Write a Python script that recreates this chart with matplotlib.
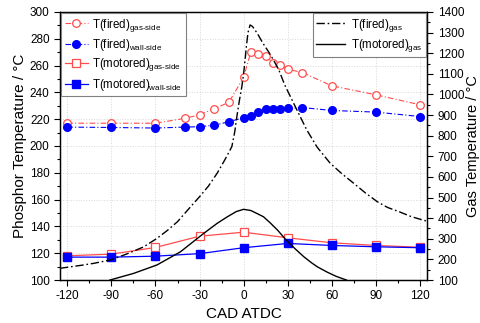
import matplotlib
matplotlib.use('Agg')
import matplotlib.pyplot as plt
import numpy as np

plt.rcParams['font.family'] = ['Liberation Sans', 'DejaVu Sans']
plt.rcParams['mathtext.fontset'] = 'custom'
plt.rcParams['mathtext.rm'] = 'Liberation Sans'
plt.rcParams['axes.unicode_minus'] = False

# phosphor temperatures (left axis)
cad_fired = [-120, -90, -60, -40, -30, -20, -10, 0, 5, 10, 15, 20, 25, 30, 40, 60, 90, 120]
fired_gas_side = [217, 217, 217, 220.6, 223.3, 227.8, 232.6, 251.2, 270.4, 268.7, 267, 262.2,
                  260.4, 257.3, 254.8, 244.9, 238.2, 230.8]
fired_wall_side = [214.1, 213.8, 213.4, 214.1, 214.4, 215.5, 218.1, 221.1, 222.6, 225, 227.6,
                   227.6, 227.8, 228, 228.7, 226.5, 225.3, 222]

cad_motored = [-120, -90, -60, -30, 0, 30, 60, 90, 120]
motored_gas_side = [118.1, 119.3, 124.3, 132.7, 135.7, 131.5, 127.8, 125.8, 124.5]
motored_wall_side = [117.1, 117.1, 117.8, 119.7, 124.1, 127.3, 125.8, 124.8, 124.1]

# gas temperatures (right axis)
cad_gas_fired = [-125, -110, -102, -91, -80, -68, -59, -52, -45, -38, -30, -24, -18, -13,
                 -8, -6, -4.6, -3, -1.2, 0, 1, 2, 3, 4.4, 6, 8, 10, 13, 17, 20.5, 24, 28,
                 33, 38, 43, 50, 59, 67, 75, 83, 91, 98, 106, 114, 122, 125]
gas_fired = [157, 172, 181, 197, 225, 261, 302, 340, 383, 440, 504, 555, 618, 680,
             747, 820, 892, 965, 1038, 1100, 1167, 1240, 1300, 1337, 1330, 1310, 1288, 1250,
             1207, 1165, 1119, 1046, 973, 900, 828, 745, 666, 615, 569, 522, 480, 452, 431,
             408, 391, 385]
cad_gas_motored = [-91, -75, -59, -43, -27, -18, -11, -5, 0, 5, 9, 13.5, 18, 23, 29, 35,
                   41, 46, 50, 57, 63, 70]
gas_motored = [100, 132, 173, 237, 327, 375, 407, 432, 443, 437, 423, 407, 378, 343, 294,
               252, 213, 185, 165, 138, 118, 100]

red = '#ff4d4d'
blue = '#0000ff'

fig = plt.figure(figsize=(4.8, 3.23), dpi=100, facecolor='w')
ax = fig.add_axes([0.125, 0.133, 0.765, 0.830])
ax2 = ax.twinx()

l1, = ax.plot(cad_fired, fired_gas_side, color=red, lw=0.8, ls=(0, (5, 2, 1, 2)),
              marker='o', ms=5.5, mfc='white', mec=red, mew=0.9)
l2, = ax.plot(cad_fired, fired_wall_side, color=blue, lw=0.8, ls=(0, (5, 2, 1, 2)),
              marker='o', ms=5.5, mfc=blue, mec=blue)
l3, = ax.plot(cad_motored, motored_gas_side, color=red, lw=0.9,
              marker='s', ms=5.5, mfc='white', mec=red, mew=0.9)
l4, = ax.plot(cad_motored, motored_wall_side, color=blue, lw=0.9,
              marker='s', ms=5.5, mfc=blue, mec=blue)

g1, = ax2.plot(cad_gas_fired, gas_fired, color='black', lw=1.0, ls=(0, (6, 2, 1.2, 2)))
g2, = ax2.plot(cad_gas_motored, gas_motored, color='black', lw=1.0)

ax.set_xlim(-125, 125)
ax.set_ylim(100, 300)
ax2.set_ylim(100, 1400)
ax.set_xticks(np.arange(-120, 121, 30))
ax.set_xticks(np.arange(-120, 121, 15), minor=True)
ax.set_yticks(np.arange(100, 301, 20))
ax.set_yticks(np.arange(100, 301, 10), minor=True)
ax2.set_yticks(np.arange(100, 1401, 100))
ax2.set_yticks(np.arange(100, 1401, 50), minor=True)

ax.grid(True, which='major', color='#d8d8d8', ls=':', lw=0.7)
for a in (ax, ax2):
    a.tick_params(which='major', direction='out', length=4, width=0.8, labelsize=8.5)
    a.tick_params(which='minor', direction='out', length=2.5, width=0.8)
    for s in a.spines.values():
        s.set_linewidth(0.9)
ax.tick_params(top=False, right=False)

ax.set_xlabel('CAD ATDC', fontsize=11, labelpad=3)
ax.set_ylabel('Phosphor Temperature / °C', fontsize=11, labelpad=2)
ax2.set_ylabel('Gas Temperature / °C', fontsize=10.5, labelpad=1)

leg1 = ax2.legend([l1, l2, l3, l4],
                  [r'T(fired)$_{\text{gas-side}}$', r'T(fired)$_{\text{wall-side}}$',
                   r'T(motored)$_{\text{gas-side}}$', r'T(motored)$_{\text{wall-side}}$'],
                  loc='upper left', bbox_to_anchor=(0.0, 1.0), fontsize=8.3, fancybox=False,
                  edgecolor='#808080', framealpha=1, handlelength=2.0, borderaxespad=0.1,
                  labelspacing=0.3, handletextpad=0.4, borderpad=0.3)
leg1.get_frame().set_linewidth(0.8)
ax2.add_artist(leg1)
leg2 = ax2.legend([g1, g2], [r'T(fired)$_{\text{gas}}$', r'T(motored)$_{\text{gas}}$'],
                  loc='upper right', bbox_to_anchor=(1.0, 1.0), fontsize=8.3, fancybox=False,
                  edgecolor='#808080', framealpha=1, handlelength=2.5, borderaxespad=0.1,
                  labelspacing=0.3, handletextpad=0.5, borderpad=0.3)
leg2.get_frame().set_linewidth(0.8)

fig.savefig('out.png', dpi=100, facecolor=fig.get_facecolor())
